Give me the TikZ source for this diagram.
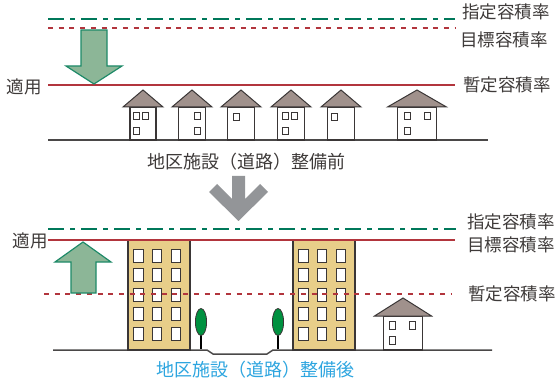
\documentclass[tikz,border=0pt]{standalone}
\usepackage{fontspec}
\newfontfamily\jpfont{Noto Sans CJK JP}
\definecolor{desgreen}{HTML}{00785A}
\definecolor{ratered}{HTML}{B2353D}
\definecolor{arrowfill}{HTML}{8CB697}
\definecolor{arrowedge}{HTML}{1E8A68}
\definecolor{roofbrown}{HTML}{A0918C}
\definecolor{outline}{HTML}{3A3636}
\definecolor{groundgray}{HTML}{4A4848}
\definecolor{textgray}{HTML}{3E3A39}
\definecolor{bldgfill}{HTML}{E8CE89}
\definecolor{treegreen}{HTML}{009140}
\definecolor{stepgray}{HTML}{939598}
\definecolor{captionblue}{HTML}{2DA5DF}

% a small house: centre x, apex y, eave y, roof half width, wall half width, ground y
\newcommand\drawhouse[6]{%
  \draw[wall] (#1-#5,#3) rectangle (#1+#5,#6);
  \draw[roof] (#1-#4,#3) -- (#1,#2) -- (#1+#4,#3) -- cycle;}
% a window of a house
\newcommand\housewin[2]{\draw[hwin] (#1,#2) rectangle ++(6,7.5);}
% a window of a tall building
\newcommand\bldgwin[2]{\draw[bwin] (#1,#2) rectangle ++(9.5,13);}
% a tree: centre x
\newcommand\drawtree[1]{%
  \draw[line width=2.2pt, black] (#1,333) -- (#1,349);
  \draw[fill=treegreen, draw=outline, line width=0.8pt] (#1,322) ellipse [x radius=5.6, y radius=13.5];}

\begin{document}
\begin{tikzpicture}[x=1pt,y=-1pt,
  designated/.style={draw=desgreen, line width=2.4pt, dash pattern=on 16pt off 6pt on 5pt off 6pt},
  target/.style={draw=ratered, line width=2pt, dash pattern=on 5pt off 5.7pt},
  interim/.style={draw=ratered, line width=2.2pt},
  groundline/.style={draw=groundgray, line width=1.5pt},
  roof/.style={fill=roofbrown, draw=outline, line width=1pt, line join=miter},
  wall/.style={fill=white, draw=outline, line width=1.2pt},
  hwin/.style={fill=white, draw=outline, line width=0.9pt},
  bwin/.style={fill=white, draw=outline, line width=1pt},
  bldg/.style={fill=bldgfill, draw=outline, line width=1.2pt},
  ratearrow/.style={fill=arrowfill, draw=arrowedge, line width=1.2pt, line join=miter},
  lbl/.style={font=\jpfont\fontsize{17.5}{20}\selectfont, text=textgray, inner sep=0pt},
  caption/.style={font=\jpfont\fontsize{18}{20}\selectfont, inner sep=0pt}]

\useasboundingbox (0,0) rectangle (560,385);

% ---------- before the road is built ----------
\draw[designated] (48,19) -- (455,19);
\draw[target] (48,28) -- (455,28);
\draw[groundline] (48,140) -- (488,140);

\drawhouse{143}{90}{107}{20}{13}{140}
\housewin{133.5}{112}\housewin{142}{112}\housewin{133.5}{127}
\drawhouse{192}{90}{107}{20}{13.5}{140}
\housewin{194}{112}\housewin{194}{127}
\drawhouse{241}{90}{107}{20}{13.5}{140}
\housewin{233}{113}
\drawhouse{291}{90}{107}{20}{13.5}{140}
\housewin{282.5}{112}\housewin{291}{112}\housewin{282.5}{127}
\drawhouse{341}{90}{107}{20}{13.5}{140}
\housewin{331}{113}
\drawhouse{417}{90}{107}{29.5}{19.5}{140}
\housewin{404}{112}\housewin{424}{112}\housewin{404}{127}

\draw[interim] (48,85) -- (455,85);
\draw[ratearrow] (81,30) -- (107,30) -- (107,66) -- (122,66) -- (94,84)
  -- (66,66) -- (81,66) -- cycle;

\node[lbl, anchor=east] (applyA) at (42,87) {適用};
\node[lbl, anchor=west] (desA) at (462,12) {指定容積率};
\node[lbl, anchor=west] (tgtA) at (460,40) {目標容積率};
\node[lbl, anchor=west] (intA) at (463,85) {暫定容積率};
\node[caption, text=textgray] (before) at (246,162) {地区施設（道路）整備前};

% step arrow between the two states
\fill[stepgray] (232,176) -- (245,176) -- (245,199) -- (260,184) -- (268,192)
  -- (238.5,221) -- (209,192) -- (217,184) -- (232,199) -- cycle;

% ---------- after the road is built ----------
\draw[designated] (48,229) -- (456,229);
\draw[groundline] (53,350) -- (207,350) -- (213,354) -- (267,354) -- (273,350) -- (492,350);

\draw[bldg] (128,240) rectangle (190,350);
\draw[bldg] (293,240) rectangle (355,350);
\foreach \r in {249,268.5,288,307.5,327}{
  \foreach \c in {133.5,152,171}{\bldgwin{\c}{\r}}
  \foreach \c in {298.5,317,336}{\bldgwin{\c}{\r}}
}

\drawtree{201}
\drawtree{278}

\drawhouse{403}{298}{316}{28.5}{19.5}{350}
\housewin{389}{321.5}\housewin{409}{321.5}\housewin{389}{336.5}

\draw[interim] (48,240) -- (455,240);
\draw[target] (44,294) -- (452,294);
\draw[ratearrow] (71,293) -- (96,293) -- (96,262) -- (111,262) -- (83,242)
  -- (55,262) -- (71,262) -- cycle;

\node[lbl, anchor=east] (applyB) at (48,241) {適用};
\node[lbl, anchor=west] (desB) at (467,222) {指定容積率};
\node[lbl, anchor=west] (tgtB) at (467,245) {目標容積率};
\node[lbl, anchor=west] (intB) at (468,294) {暫定容積率};
\node[caption, text=captionblue] (after) at (255,370) {地区施設（道路）整備後};

\end{tikzpicture}
\end{document}
